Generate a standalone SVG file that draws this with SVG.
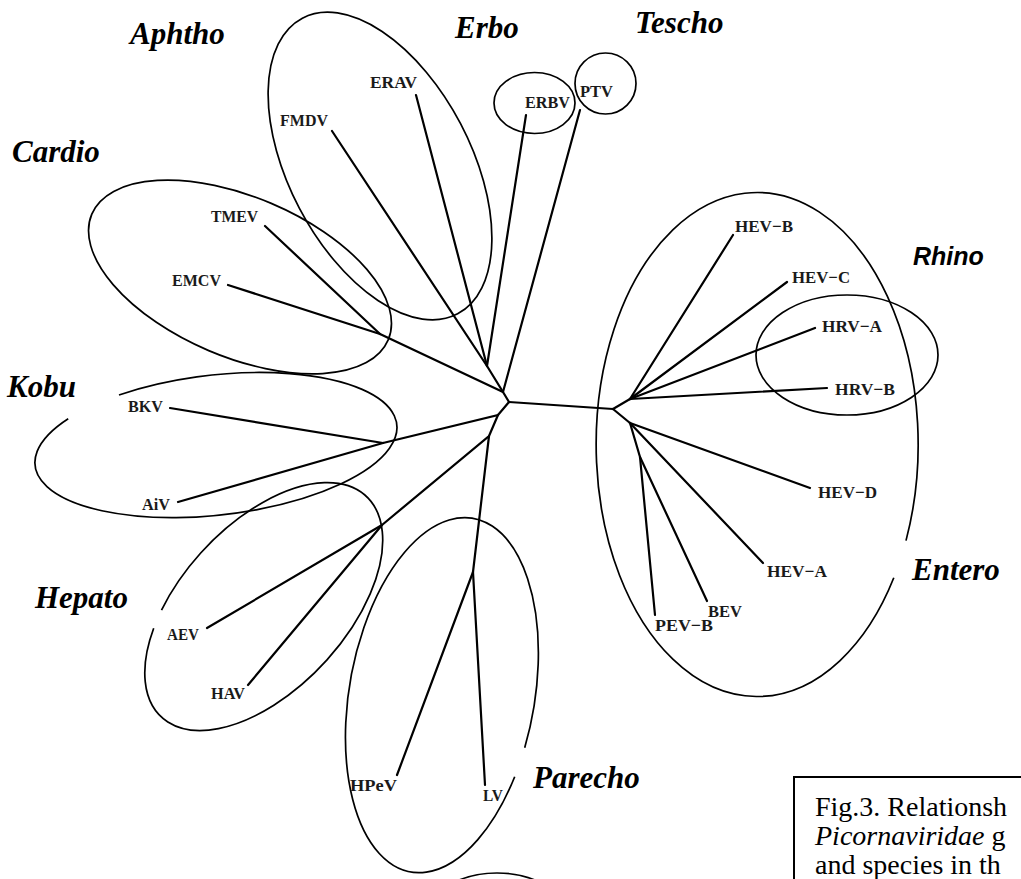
<svg xmlns="http://www.w3.org/2000/svg" width="1021" height="879" viewBox="0 0 1021 879">
<style>
.br{stroke:#000;stroke-width:2.2;fill:none;stroke-linecap:round}
.el{stroke:#000;stroke-width:1.7;fill:none}
.sp{font-family:"Liberation Serif",serif;font-weight:bold;font-size:17px;fill:#1a1a1a}
.gn{font-family:"Liberation Serif",serif;font-weight:bold;font-style:italic;font-size:31px;fill:#000}
.gs{font-family:"Liberation Sans",sans-serif;font-weight:bold;font-style:italic;font-size:25px;fill:#000}
.cap{font-family:"Liberation Serif",serif;font-size:28px;fill:#000}
</style>
<rect width="1021" height="879" fill="#fff"/>
<g id="connectors" class="br">
<path d="M509,402L613,409"/>
<path d="M509,402L503,392L487,366"/>
<path d="M487,366L332,131"/>
<path d="M487,366L416,95"/>
<path d="M487,366L526,115"/>
<path d="M503,392L380,334"/>
<path d="M380,334L265,226"/>
<path d="M380,334L228,285"/>
<path d="M503,392L580,110"/>
<path d="M509,402L498,415L383,443"/>
<path d="M383,443L170,408"/>
<path d="M383,443L178,502"/>
<path d="M498,415L489,436L382,525"/>
<path d="M382,525L207,628"/>
<path d="M382,525L248,685"/>
<path d="M489,436L473,572"/>
<path d="M473,572L397,775"/>
<path d="M473,572L485,785"/>
<path d="M613,409L630,399"/>
<path d="M630,399L733,235"/>
<path d="M630,399L787,282"/>
<path d="M630,399L815,328"/>
<path d="M630,399L827,388"/>
<path d="M613,409L630,423"/>
<path d="M630,423L810,488"/>
<path d="M630,423L763,563"/>
<path d="M630,423L640,457"/>
<path d="M640,457L707,601"/>
<path d="M640,457L655,615"/>
</g>
<g id="clade-aphtho">
<ellipse class="el" cx="380" cy="166" rx="91" ry="167" transform="rotate(-27.7 380 166)"/>
<text class="gn" x="130" y="44">Aphtho</text>
</g>
<g id="clade-cardio">
<ellipse class="el" cx="240" cy="277" rx="161" ry="80" transform="rotate(23 240 277)"/>
<text class="gn" x="12" y="162">Cardio</text>
</g>
<g id="clade-erbo">
<ellipse class="el" cx="534.5" cy="103" rx="40.5" ry="30.5"/>
<text class="gn" x="455" y="38">Erbo</text>
</g>
<g id="clade-tescho">
<ellipse class="el" cx="605.5" cy="83.5" rx="30.5" ry="30.5"/>
<text class="gn" x="635" y="33">Tescho</text>
</g>
<g id="clade-kobu">
<path class="el" d="M119,395A182,70 -6.5 1 1 68.2,418.7"/>
<text class="gn" x="7" y="397">Kobu</text>
</g>
<g id="clade-hepato">
<path class="el" d="M161.5,610.1A150.6,82.7 -47.2 1 1 153.7,628.2"/>
<text class="gn" x="35" y="608">Hepato</text>
</g>
<g id="clade-parecho">
<path class="el" d="M514.7,776.7A92.7,179.5 10 1 1 524.7,747.7"/>
<text class="gn" x="533" y="788">Parecho</text>
</g>
<g id="clade-entero">
<path class="el" d="M893.8,577.8A161,252 0 1 1 906,540.6"/>
<text class="gn" x="912" y="580">Entero</text>
</g>
<g id="clade-rhino">
<ellipse class="el" cx="847" cy="355" rx="91" ry="60"/>
<text class="gs" x="913" y="265">Rhino</text>
</g>
<g id="clade-bottom">
<ellipse class="el" cx="497" cy="918" rx="70" ry="45"/>
</g>
<g id="leaf-ERAV"><text class="sp" x="370" y="88" textLength="47" lengthAdjust="spacingAndGlyphs">ERAV</text></g>
<g id="leaf-FMDV"><text class="sp" x="280" y="126" textLength="48" lengthAdjust="spacingAndGlyphs">FMDV</text></g>
<g id="leaf-TMEV"><text class="sp" x="211" y="222" textLength="47" lengthAdjust="spacingAndGlyphs">TMEV</text></g>
<g id="leaf-EMCV"><text class="sp" x="172" y="286" textLength="49" lengthAdjust="spacingAndGlyphs">EMCV</text></g>
<g id="leaf-BKV"><text class="sp" x="128" y="412" textLength="35" lengthAdjust="spacingAndGlyphs">BKV</text></g>
<g id="leaf-AiV"><text class="sp" x="142" y="510" textLength="28" lengthAdjust="spacingAndGlyphs">AiV</text></g>
<g id="leaf-AEV"><text class="sp" x="167" y="640" textLength="32" lengthAdjust="spacingAndGlyphs">AEV</text></g>
<g id="leaf-HAV"><text class="sp" x="211" y="699" textLength="34" lengthAdjust="spacingAndGlyphs">HAV</text></g>
<g id="leaf-HPeV"><text class="sp" x="350" y="791" textLength="47" lengthAdjust="spacingAndGlyphs">HPeV</text></g>
<g id="leaf-LV"><text class="sp" x="483" y="801" textLength="20" lengthAdjust="spacingAndGlyphs">LV</text></g>
<g id="leaf-ERBV"><text class="sp" x="525" y="108" textLength="45" lengthAdjust="spacingAndGlyphs">ERBV</text></g>
<g id="leaf-PTV"><text class="sp" x="580" y="97" textLength="33" lengthAdjust="spacingAndGlyphs">PTV</text></g>
<g id="leaf-HEV-B"><text class="sp" x="735" y="232" textLength="58" lengthAdjust="spacingAndGlyphs">HEV−B</text></g>
<g id="leaf-HEV-C"><text class="sp" x="792" y="283" textLength="58" lengthAdjust="spacingAndGlyphs">HEV−C</text></g>
<g id="leaf-HRV-A"><text class="sp" x="822" y="332" textLength="60" lengthAdjust="spacingAndGlyphs">HRV−A</text></g>
<g id="leaf-HRV-B"><text class="sp" x="835" y="395" textLength="60" lengthAdjust="spacingAndGlyphs">HRV−B</text></g>
<g id="leaf-HEV-D"><text class="sp" x="818" y="498" textLength="59" lengthAdjust="spacingAndGlyphs">HEV−D</text></g>
<g id="leaf-HEV-A"><text class="sp" x="767" y="577" textLength="60" lengthAdjust="spacingAndGlyphs">HEV−A</text></g>
<g id="leaf-BEV"><text class="sp" x="708" y="617" textLength="34" lengthAdjust="spacingAndGlyphs">BEV</text></g>
<g id="leaf-PEV-B"><text class="sp" x="655" y="631" textLength="58" lengthAdjust="spacingAndGlyphs">PEV−B</text></g>
<g id="caption">
<rect x="794" y="777" width="240" height="120" fill="#fff" stroke="#000" stroke-width="2"/>
<text class="cap" x="815" y="816">Fig.3. Relationsh</text>
<text class="cap" x="815" y="845"><tspan font-style="italic">Picornaviridae</tspan> g</text>
<text class="cap" x="815" y="874">and species in th</text>
</g>
</svg>
